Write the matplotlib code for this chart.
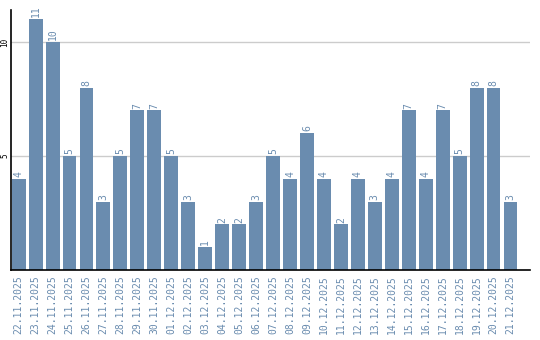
import matplotlib
matplotlib.use("Agg")
import matplotlib.pyplot as plt

dates = ["22.11.2025", "23.11.2025", "24.11.2025", "25.11.2025", "26.11.2025",
         "27.11.2025", "28.11.2025", "29.11.2025", "30.11.2025", "01.12.2025",
         "02.12.2025", "03.12.2025", "04.12.2025", "05.12.2025", "06.12.2025",
         "07.12.2025", "08.12.2025", "09.12.2025", "10.12.2025", "11.12.2025",
         "12.12.2025", "13.12.2025", "14.12.2025", "15.12.2025", "16.12.2025",
         "17.12.2025", "18.12.2025", "19.12.2025", "20.12.2025", "21.12.2025"]
counts = [4, 11, 10, 5, 8, 3, 5, 7, 7, 5, 3, 1, 2, 2, 3,
          5, 4, 6, 4, 2, 4, 3, 4, 7, 4, 7, 5, 8, 8, 3]
yticks = [5, 10]

BAR = "#6a8caf"
MONO = "DejaVu Sans Mono"

fig = plt.figure(figsize=(5.4, 3.4), dpi=100)
ax = fig.add_axes([11 / 540, 70 / 340, 519 / 540, 260 / 340])

x = list(range(len(counts)))
ax.bar(x, counts, width=0.82, color=BAR, zorder=2)
for xi, v in zip(x, counts):
    ax.text(xi, v + 0.08, str(v), rotation=90, ha="center", va="bottom",
            fontsize=7, color=BAR, family=MONO)

ax.set_xlim(-0.45, 30.15)
ax.set_ylim(0, 11.4)
ax.set_yticks(yticks)
ax.set_yticklabels([str(t) for t in yticks], rotation=90, va="center",
                   fontsize=5.5, family=MONO, color="black")
ax.set_xticks(x)
ax.set_xticklabels(dates, rotation=90, fontsize=7, color=BAR, family=MONO)
ax.tick_params(length=0, pad=4)
ax.tick_params(axis="y", pad=1)
ax.grid(axis="y", color="#cccccc", linewidth=1, zorder=0)
for s in ("top", "right"):
    ax.spines[s].set_visible(False)
for s in ("left", "bottom"):
    ax.spines[s].set_linewidth(1.2)

fig.savefig("out.png", dpi=100)
